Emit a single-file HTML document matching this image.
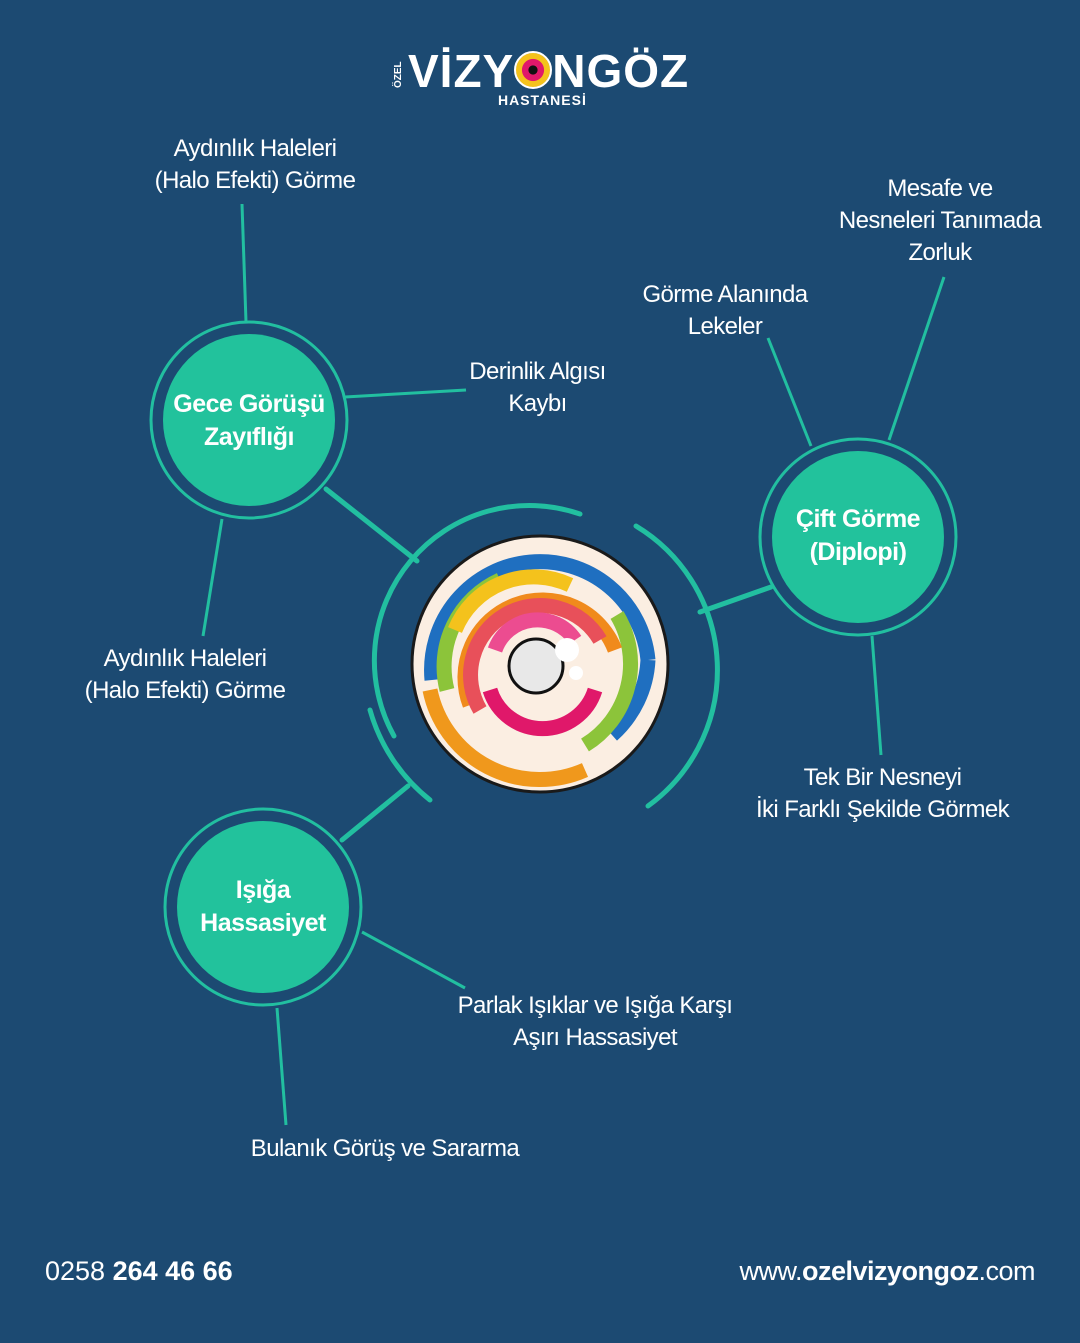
<!DOCTYPE html>
<html><head><meta charset="utf-8"><style>
body{margin:0;width:1080px;height:1343px;background:#1c4a72;overflow:hidden;font-family:"Liberation Sans","DejaVu Sans",sans-serif}
svg{position:absolute;left:0;top:0}
.t{position:absolute;color:#fff;font-size:24px;line-height:32px;text-align:center;letter-spacing:-0.6px;white-space:nowrap}
.n{position:absolute;color:#fff;font-weight:bold;font-size:25px;line-height:33px;text-align:center;white-space:nowrap;letter-spacing:-0.5px}
</style></head><body>
<svg width="1080" height="1343" viewBox="0 0 1080 1343">
<g stroke="#22bfa0" stroke-width="3" fill="none">
<line x1="242" y1="204" x2="246" y2="322"/>
<line x1="345" y1="397" x2="466" y2="390"/>
<line x1="222" y1="519" x2="203" y2="636"/>
<line x1="811" y1="446" x2="768" y2="338"/>
<line x1="889" y1="440" x2="944" y2="277"/>
<line x1="872" y1="636" x2="881" y2="755"/>
<line x1="362" y1="932" x2="465" y2="988"/>
<line x1="277" y1="1008" x2="286" y2="1125"/>
</g>
<g stroke="#22bfa0" stroke-width="5" fill="none" stroke-linecap="round">
<line x1="326" y1="489" x2="417" y2="561"/>
<line x1="771" y1="587" x2="700" y2="612"/>
<line x1="342" y1="840" x2="408" y2="786"/>
<path d="M580 514 A155 155 0 0 0 394 736"/>
<path d="M370 710 A176 176 0 0 0 430 800"/>
<path d="M636 526 A168 168 0 0 1 648 806"/>
</g>
<circle cx="249" cy="420" r="98" fill="none" stroke="#22bfa0" stroke-width="3"/>
<circle cx="249" cy="420" r="86" fill="#22c29c"/>
<circle cx="858" cy="537" r="98" fill="none" stroke="#22bfa0" stroke-width="3"/>
<circle cx="858" cy="537" r="86" fill="#22c29c"/>
<circle cx="263" cy="907" r="98" fill="none" stroke="#22bfa0" stroke-width="3"/>
<circle cx="263" cy="907" r="86" fill="#22c29c"/>
<circle cx="540" cy="664" r="128" fill="#fbeee2" stroke="#1a1a1a" stroke-width="3"/>
<g fill="none" stroke-width="15">
<path d="M432 680 A108 108 0 0 1 648 660" stroke="#1f6fc0"/>
<path d="M648 660 A108 108 0 0 1 612 735" stroke="#1f6fc0"/>
<path d="M447 690 A95 95 0 0 1 500 580" stroke="#8cc43a"/>
<path d="M617 615 A95 95 0 0 1 585 745" stroke="#8cc43a"/>
<path d="M455 630 A85 85 0 0 1 570 585" stroke="#f4c21c"/>
<path d="M430 690 A112 112 0 0 0 585 770" stroke="#f0981c"/>
<path d="M470 705 A75 75 0 0 1 615 650" stroke="#f08a1c"/>
<path d="M480 710 A65 65 0 0 1 600 640" stroke="#e8505a"/>
<path d="M490 690 A55 55 0 0 0 595 690" stroke="#e0186a"/>
<path d="M495 650 A45 45 0 0 1 575 640" stroke="#ec4c90"/>
</g>
<circle cx="536" cy="666" r="27" fill="#e8e8e8" stroke="#111" stroke-width="3"/>
<circle cx="567" cy="650" r="12" fill="#fff"/>
<circle cx="576" cy="673" r="7" fill="#fff"/>
</svg>
<div style="position:absolute;left:393px;color:#fff;font-size:10px;font-weight:bold;transform:rotate(-90deg);transform-origin:left top;top:88px">ÖZEL</div>
<div style="position:absolute;left:408px;top:46px;color:#fff;font-size:46px;font-weight:900;letter-spacing:1px;line-height:50px">VİZY<span style="display:inline-block;width:34px;height:34px;border-radius:50%;background:radial-gradient(#111 0 18%,#e0186a 20% 45%,#f4c21c 47% 70%,#1f6fc0 72%);border:2px solid #fff;vertical-align:-2px"></span>NGÖZ</div>
<div style="position:absolute;left:498px;top:92px;color:#fff;font-size:14px;font-weight:bold;letter-spacing:1px">HASTANESİ</div>
<div class="t" style="left:130px;top:133px;width:250px">Aydınlık Haleleri<br>(Halo Efekti) Görme</div>
<div class="t" style="left:810px;top:173px;width:260px">Mesafe ve<br>Nesneleri Tanımada<br>Zorluk</div>
<div class="t" style="left:615px;top:279px;width:220px">Görme Alanında<br>Lekeler</div>
<div class="t" style="left:440px;top:356px;width:195px">Derinlik Algısı<br>Kaybı</div>
<div class="t" style="left:60px;top:643px;width:250px">Aydınlık Haleleri<br>(Halo Efekti) Görme</div>
<div class="t" style="left:735px;top:762px;width:295px">Tek Bir Nesneyi<br>İki Farklı Şekilde Görmek</div>
<div class="t" style="left:440px;top:990px;width:310px">Parlak Işıklar ve Işığa Karşı<br>Aşırı Hassasiyet</div>
<div class="t" style="left:235px;top:1133px;width:300px">Bulanık Görüş ve Sararma</div>
<div class="n" style="left:149px;top:388px;width:200px">Gece Görüşü<br>Zayıflığı</div>
<div class="n" style="left:758px;top:503px;width:200px">Çift Görme<br>(Diplopi)</div>
<div class="n" style="left:163px;top:874px;width:200px">Işığa<br>Hassasiyet</div>
<div style="position:absolute;left:45px;top:1256px;color:#fff;font-size:27px">0258 <b>264 46 66</b></div>
<div style="position:absolute;right:45px;top:1256px;color:#fff;font-size:27px;letter-spacing:-0.5px">www.<b>ozelvizyongoz</b>.com</div>
</body></html>
